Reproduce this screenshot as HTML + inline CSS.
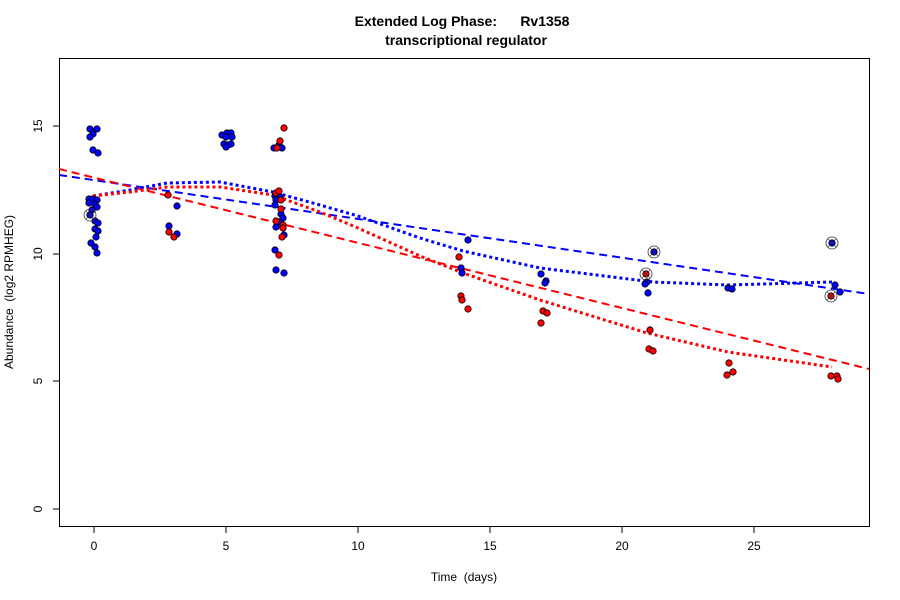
<!DOCTYPE html>
<html><head><meta charset="utf-8"><style>body{margin:0;background:#fff}svg{display:block}text{font-family:"Liberation Sans",sans-serif}</style></head><body>
<svg width="900" height="600" xmlns="http://www.w3.org/2000/svg">
<rect width="900" height="600" fill="#fff"/>
<text x="462" y="26" text-anchor="middle" font-size="14" font-weight="bold" xml:space="preserve">Extended Log Phase:      Rv1358</text>
<text x="466" y="45" text-anchor="middle" font-size="14" font-weight="bold">transcriptional regulator</text>
<rect x="59.5" y="58.5" width="810" height="468" fill="none" stroke="#000"/>
<g stroke="#000">
<line x1="94" y1="527" x2="94" y2="533"/><line x1="226" y1="527" x2="226" y2="533"/><line x1="358" y1="527" x2="358" y2="533"/><line x1="490" y1="527" x2="490" y2="533"/><line x1="622" y1="527" x2="622" y2="533"/><line x1="754" y1="527" x2="754" y2="533"/>
<line x1="53" y1="509" x2="59" y2="509"/><line x1="53" y1="381" x2="59" y2="381"/><line x1="53" y1="254" x2="59" y2="254"/><line x1="53" y1="126" x2="59" y2="126"/>
</g>
<g font-size="12" text-anchor="middle">
<text x="94" y="550">0</text><text x="226" y="550">5</text><text x="358" y="550">10</text><text x="490" y="550">15</text><text x="622" y="550">20</text><text x="754" y="550">25</text>
<text x="464" y="581" xml:space="preserve">Time  (days)</text>
<text transform="translate(42,509) rotate(-90)">0</text><text transform="translate(42,381) rotate(-90)">5</text><text transform="translate(42,254) rotate(-90)">10</text><text transform="translate(42,126) rotate(-90)">15</text>
<text transform="translate(13,292) rotate(-90)" xml:space="preserve">Abundance  (log2 RPMHEG)</text>
</g>
<g fill="none" stroke-width="2">
<line x1="59" y1="175" x2="869" y2="294" stroke="#00f" stroke-dasharray="8,5"/>
<line x1="59" y1="169" x2="869" y2="369" stroke="#f00" stroke-dasharray="8,5"/>
<polyline stroke="#00f" stroke-width="3" stroke-dasharray="3,3" points="93,196 130,190 167,183 220,182 273,192 320,205 358,216 420,238 463,251 540,268 653,282 728,285 832,282"/>
<polyline stroke="#f00" stroke-width="3" stroke-dasharray="3,3" points="93,196 130,192 167,187 220,187 273,195 320,212 358,228 420,256 463,273 540,300 647,333 728,352 832,367"/>
</g>
<g stroke="#000" stroke-width="0.8">
<g fill="#00f">
<circle cx="90" cy="129" r="3.2"/><circle cx="97" cy="129" r="3.2"/><circle cx="93" cy="134" r="3.2"/><circle cx="90" cy="137" r="3.2"/><circle cx="93" cy="150" r="3.2"/><circle cx="98" cy="153" r="3.2"/>
<circle cx="89" cy="199" r="3.2"/><circle cx="93" cy="199" r="3.2"/><circle cx="97" cy="200" r="3.2"/><circle cx="89" cy="203" r="3.2"/><circle cx="95" cy="204" r="3.2"/><circle cx="97" cy="207" r="3.2"/><circle cx="92" cy="210" r="3.2"/><circle cx="90" cy="215" r="3.2"/><circle cx="95" cy="221" r="3.2"/><circle cx="98" cy="223" r="3.2"/><circle cx="95" cy="229" r="3.2"/><circle cx="98" cy="231" r="3.2"/><circle cx="96" cy="237" r="3.2"/><circle cx="91" cy="243" r="3.2"/><circle cx="95" cy="247" r="3.2"/><circle cx="97" cy="253" r="3.2"/>
<circle cx="177" cy="206" r="3.2"/><circle cx="169" cy="226" r="3.2"/><circle cx="177" cy="234" r="3.2"/>
<circle cx="222" cy="135" r="3.2"/><circle cx="227" cy="133" r="3.2"/><circle cx="231" cy="133" r="3.2"/><circle cx="232" cy="137" r="3.2"/><circle cx="226" cy="137" r="3.2"/><circle cx="224" cy="144" r="3.2"/><circle cx="228" cy="145" r="3.2"/><circle cx="231" cy="144" r="3.2"/><circle cx="226" cy="147" r="3.2"/>
<circle cx="279" cy="145" r="3.2"/><circle cx="274" cy="148" r="3.2"/><circle cx="282" cy="148" r="3.2"/>
<circle cx="275" cy="196" r="3.2"/><circle cx="280" cy="197" r="3.2"/><circle cx="276" cy="200" r="3.2"/><circle cx="275" cy="205" r="3.2"/><circle cx="281" cy="214" r="3.2"/><circle cx="283" cy="218" r="3.2"/><circle cx="280" cy="222" r="3.2"/><circle cx="276" cy="227" r="3.2"/><circle cx="284" cy="235" r="3.2"/><circle cx="275" cy="250" r="3.2"/><circle cx="276" cy="270" r="3.2"/><circle cx="284" cy="273" r="3.2"/>
<circle cx="468" cy="240" r="3.2"/><circle cx="461" cy="268" r="3.2"/><circle cx="462" cy="273" r="3.2"/>
<circle cx="541" cy="274" r="3.2"/><circle cx="546" cy="281" r="3.2"/><circle cx="545" cy="283" r="3.2"/>
<circle cx="654" cy="252" r="3.2"/><circle cx="647" cy="282" r="3.2"/><circle cx="645" cy="284" r="3.2"/><circle cx="648" cy="293" r="3.2"/>
<circle cx="728" cy="288" r="3.2"/><circle cx="732" cy="289" r="3.2"/>
<circle cx="832" cy="243" r="3.2"/><circle cx="835" cy="285" r="3.2"/><circle cx="840" cy="292" r="3.2"/>
</g>
<g fill="#f00">
<circle cx="168" cy="195" r="3.2"/><circle cx="169" cy="232" r="3.2"/><circle cx="174" cy="237" r="3.2"/>
<circle cx="284" cy="128" r="3.2"/><circle cx="280" cy="141" r="3.2"/><circle cx="277" cy="148" r="3.2"/>
<circle cx="276" cy="193" r="3.2"/><circle cx="279" cy="191" r="3.2"/><circle cx="281" cy="200" r="3.2"/><circle cx="281" cy="209" r="3.2"/><circle cx="276" cy="221" r="3.2"/><circle cx="283" cy="225" r="3.2"/><circle cx="283" cy="228" r="3.2"/><circle cx="282" cy="237" r="3.2"/><circle cx="279" cy="255" r="3.2"/>
<circle cx="459" cy="257" r="3.2"/><circle cx="461" cy="296" r="3.2"/><circle cx="462" cy="300" r="3.2"/><circle cx="468" cy="309" r="3.2"/>
<circle cx="543" cy="311" r="3.2"/><circle cx="547" cy="313" r="3.2"/><circle cx="541" cy="323" r="3.2"/>
<circle cx="646" cy="274" r="3.2"/><circle cx="650" cy="330" r="3.2"/><circle cx="649" cy="349" r="3.2"/><circle cx="653" cy="351" r="3.2"/>
<circle cx="729" cy="363" r="3.2"/><circle cx="727" cy="375" r="3.2"/><circle cx="733" cy="372" r="3.2"/>
<circle cx="831" cy="296" r="3.2"/><circle cx="831" cy="376" r="3.2"/><circle cx="837" cy="376" r="3.2"/><circle cx="838" cy="379" r="3.2"/>
</g>
<g fill="none" stroke="#333">
<circle cx="90" cy="215" r="6"/><circle cx="654" cy="252" r="6"/><circle cx="646" cy="274" r="6"/><circle cx="832" cy="243" r="6"/><circle cx="831" cy="296" r="6"/>
<path d="M86 211l8 8M94 211l-8 8M650 248l8 8M658 248l-8 8M642 270l8 8M650 270l-8 8M828 239l8 8M836 239l-8 8M827 292l8 8M835 292l-8 8" stroke-width="0.6"/>
</g>
</g>
</svg>
</body></html>
